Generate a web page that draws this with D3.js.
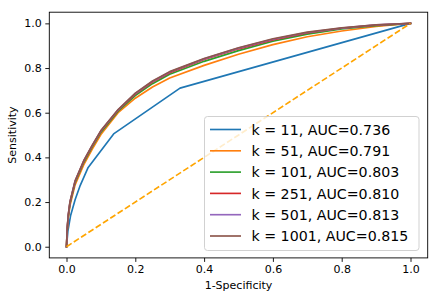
<!DOCTYPE html>
<html>
<head>
<meta charset="utf-8">
<script src="https://cdn.jsdelivr.net/npm/d3@7"></script>
<style>
  body { margin: 0; background: #fff; }
  svg { display: block; font-family: "DejaVu Sans", sans-serif; }
</style>
</head>
<body>
<svg id="chart" width="439" height="300"></svg>
<script>
// ROC curves (fpr, tpr pairs per k)
const labels = ["k = 11, AUC=0.736", "k = 51, AUC=0.791", "k = 101, AUC=0.803",
                "k = 251, AUC=0.810", "k = 501, AUC=0.813", "k = 1001, AUC=0.815"];
const colors = ["#1f77b4", "#ff7f0e", "#2ca02c", "#d62728", "#9467bd", "#8c564b"];

const fprK11 = [0, 0.004, 0.012, 0.025, 0.04, 0.063, 0.137, 0.33, 1];
const tprK11 = [0, 0.07, 0.14, 0.21, 0.275, 0.355, 0.505, 0.71, 1];

// the smoother curves share one fpr grid
const fprGrid = [0, 0.002, 0.005, 0.01, 0.025, 0.05, 0.075, 0.1, 0.15, 0.2, 0.25, 0.3, 0.4, 0.5, 0.6, 0.7, 0.8, 0.9, 1];
const tprK51   = [0, 0.07, 0.125, 0.183, 0.277, 0.366, 0.437, 0.502, 0.6, 0.665, 0.715, 0.755, 0.812, 0.862, 0.905, 0.94, 0.966, 0.986, 1];
const tprK101  = [0, 0.075, 0.133, 0.192, 0.287, 0.377, 0.447, 0.512, 0.607, 0.677, 0.73, 0.772, 0.83, 0.878, 0.92, 0.952, 0.975, 0.99, 1];
const tprK251  = [0, 0.078, 0.137, 0.197, 0.292, 0.382, 0.452, 0.517, 0.611, 0.683, 0.737, 0.779, 0.838, 0.886, 0.926, 0.957, 0.978, 0.992, 1];
const tprK501  = [0, 0.079, 0.139, 0.199, 0.294, 0.384, 0.454, 0.519, 0.613, 0.686, 0.74, 0.782, 0.841, 0.889, 0.929, 0.959, 0.979, 0.993, 1];
const tprK1001 = [0, 0.08, 0.14, 0.2, 0.295, 0.385, 0.455, 0.52, 0.614, 0.688, 0.742, 0.784, 0.843, 0.891, 0.931, 0.961, 0.98, 0.993, 1];

const ticks = [0, 0.2, 0.4, 0.6, 0.8, 1.0];
const chance = [0, 1];

const series = [
  { fpr: fprK11, tpr: tprK11 },
  { fpr: fprGrid, tpr: tprK51 },
  { fpr: fprGrid, tpr: tprK101 },
  { fpr: fprGrid, tpr: tprK251 },
  { fpr: fprGrid, tpr: tprK501 },
  { fpr: fprGrid, tpr: tprK1001 }
].map((s, i) => ({ label: labels[i], color: colors[i], pts: s.fpr.map((f, j) => [f, s.tpr[j]]) }));

const svg = d3.select("#chart");
const plotL = 49.3, plotR = 427.7, plotT = 12.2, plotB = 257.9;

const x = d3.scaleLinear().domain([-0.05, 1.05]).range([plotL, plotR]);
const y = d3.scaleLinear().domain([-0.05, 1.05]).range([plotB, plotT]);

const line = d3.line().x(d => x(d[0])).y(d => y(d[1]));

// curves
const plot = svg.append("g");
series.forEach(s => {
  plot.append("path")
    .attr("d", line(s.pts))
    .attr("fill", "none")
    .attr("stroke", s.color)
    .attr("stroke-width", 1.65)
    .attr("stroke-linejoin", "round")
    .attr("stroke-linecap", "square");
});

// chance line
plot.append("path")
  .attr("d", line(chance.map(v => [v, v])))
  .attr("fill", "none")
  .attr("stroke", "#ffa500")
  .attr("stroke-width", 1.65)
  .attr("stroke-dasharray", "6.1,2.6");

// axes
const xAxis = d3.axisBottom(x).tickValues(ticks).tickFormat(d3.format(".1f")).tickSize(4).tickPadding(3.5);
const yAxis = d3.axisLeft(y).tickValues(ticks).tickFormat(d3.format(".1f")).tickSize(4).tickPadding(3.5);

svg.append("g").attr("transform", `translate(0,${plotB})`).call(xAxis);
svg.append("g").attr("transform", `translate(${plotL},0)`).call(yAxis);

svg.selectAll(".tick text").attr("font-size", 11).attr("font-family", "DejaVu Sans").attr("fill", "#000");
svg.selectAll(".tick line").attr("stroke", "#000").attr("stroke-width", 0.9);
svg.selectAll(".domain").remove();

// frame
svg.append("rect")
  .attr("x", plotL).attr("y", plotT)
  .attr("width", plotR - plotL).attr("height", plotB - plotT)
  .attr("fill", "none").attr("stroke", "#000").attr("stroke-width", 0.9);

// axis labels
svg.append("text")
  .attr("x", (plotL + plotR) / 2).attr("y", 289)
  .attr("text-anchor", "middle").attr("font-size", 11)
  .text("1-Specificity");

svg.append("text")
  .attr("transform", `translate(16,${(plotT + plotB) / 2}) rotate(-90)`)
  .attr("text-anchor", "middle").attr("font-size", 11)
  .text("Sensitivity");

// legend
const lg = svg.append("g");
lg.append("rect")
  .attr("x", 204.5).attr("y", 116.5)
  .attr("width", 214.5).attr("height", 134)
  .attr("rx", 3)
  .attr("fill", "#fff").attr("fill-opacity", 0.8)
  .attr("stroke", "#cccccc").attr("stroke-width", 0.9);

const rowY = d3.scaleLinear().domain([0, 5]).range([129.5, 236]);
series.forEach((s, i) => {
  const yy = rowY(i);
  lg.append("line")
    .attr("x1", 210).attr("x2", 241)
    .attr("y1", yy).attr("y2", yy)
    .attr("stroke", s.color).attr("stroke-width", 1.65);
  lg.append("text")
    .attr("x", 251.5).attr("y", yy)
    .attr("dy", "0.36em")
    .attr("font-size", 14.2)
    .text(s.label);
});
</script>
</body>
</html>
